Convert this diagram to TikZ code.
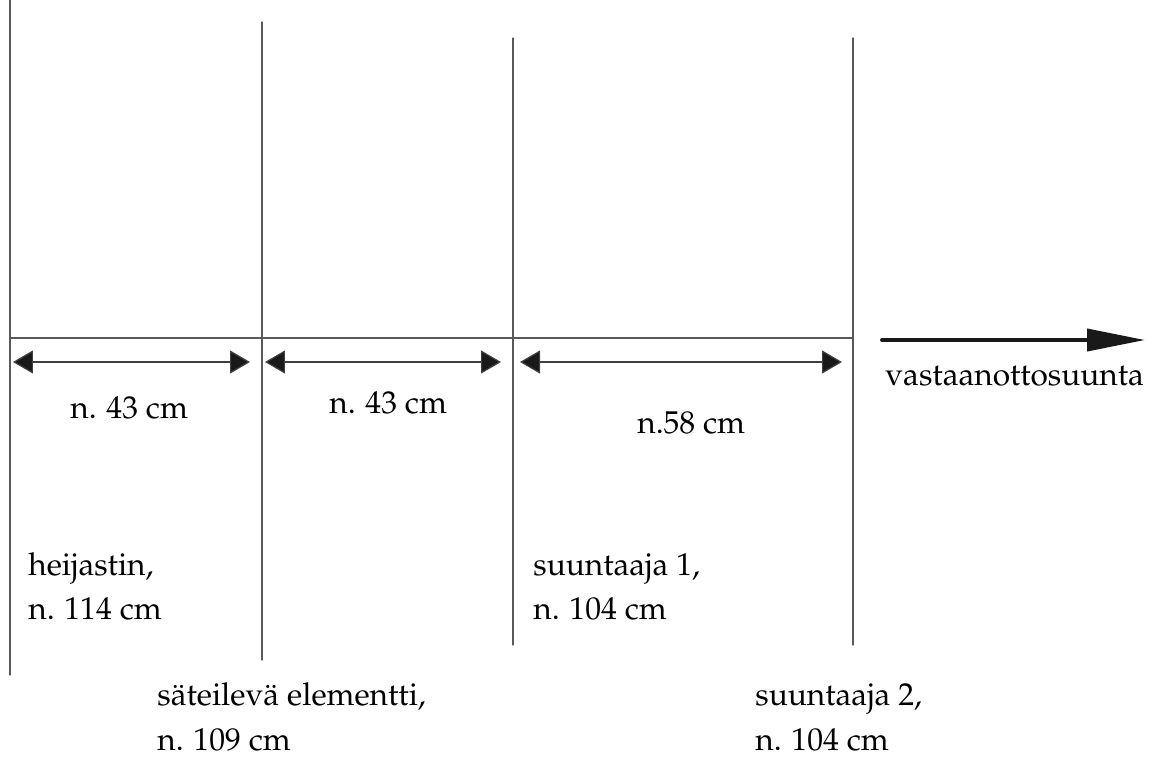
\documentclass[tikz,border=0pt]{standalone}
\usepackage[T1]{fontenc}
\usepackage{mathpazo}
\usetikzlibrary{arrows.meta}
\tikzset{
  every picture/.style={line join=round, line cap=round},
  wall/.style={draw=black!65, line width=0.6pt},
  dimarrow/.style={{Triangle[length=0.4cm,width=0.46cm,fill=black!90]}-{Triangle[length=0.4cm,width=0.46cm,fill=black!90]}, line width=0.7pt, draw=black!75},
  label/.style={anchor=base west, inner sep=0pt, font=\fontsize{18}{22}\selectfont, text=black},
}
\begin{document}
\begin{tikzpicture}[x=0.02cm,y=-0.02cm]
\useasboundingbox (0,0) rectangle (1159,758);
% elements
\coordinate (r1) at (10,0);   \coordinate (r2) at (10,675);
\coordinate (s1) at (262,22); \coordinate (s2) at (262,660);
\coordinate (d1) at (513,38); \coordinate (d2) at (513,645);
\coordinate (e1) at (853,38); \coordinate (e2) at (853,645);
\coordinate (h1) at (10,338); \coordinate (h2) at (853,338);
\draw[wall](r1)--(r2) (s1)--(s2) (d1)--(d2) (e1)--(e2) (h1)--(h2);
% distances
\coordinate (a1) at (13,362);  \coordinate (a2) at (250,362);
\coordinate (b1) at (265,362); \coordinate (b2) at (501,362);
\coordinate (c1) at (520,362); \coordinate (c2) at (842,362);
\draw[dimarrow](a1)--(a2);
\draw[dimarrow](b1)--(b2);
\draw[dimarrow](c1)--(c2);
\node[label](la) at (70,418){n. 43 cm};
\node[label](lb) at (329,413){n. 43 cm};
\node[label](lc) at (637,433){n.58 cm};
% direction
\coordinate (v1) at (882,340); \coordinate (v2) at (1145,340);
\draw[-{Triangle[length=1.16cm,width=0.44cm]},line width=2.2pt,black!90](v1)--(v2);
\node[label](lv) at (885,385){vastaanottosuunta};
% names
\node[label](n1) at (28,575){heijastin,};
\node[label](m1) at (28,619){n. 114 cm};
\node[label](n2) at (157,705){säteilevä elementti,};
\node[label](m2) at (157,750){n. 109 cm};
\node[label](n3) at (533,575){suuntaaja 1,};
\node[label](m3) at (533,619){n. 104 cm};
\node[label](n4) at (755,705){suuntaaja 2,};
\node[label](m4) at (755,750){n. 104 cm};
\end{tikzpicture}
\end{document}
